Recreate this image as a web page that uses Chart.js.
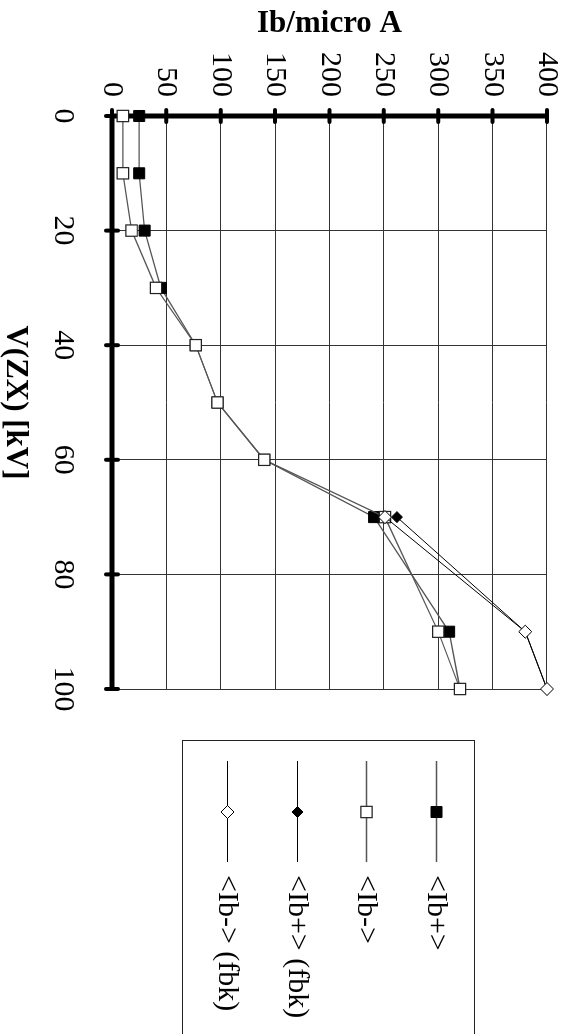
<!DOCTYPE html>
<html><head><meta charset="utf-8">
<script src="https://cdn.jsdelivr.net/npm/chart.js@4.4.1/dist/chart.umd.min.js"></script>
<style>
html,body{margin:0;padding:0;background:#fff;overflow:hidden;width:567px;height:1034px;}
#wrap{position:absolute;left:0;top:0;width:1034px;height:567px;transform-origin:0 0;transform:translate(567px,0) rotate(90deg);background:#fff;}
canvas{display:block;}
</style></head><body>
<div id="wrap"><canvas id="c" width="1034" height="567"></canvas></div>
<script>
// ---- data ----
const voltages   = [0, 10, 20, 30, 40, 50, 60, 70, 90, 100];
const ibPlus     = [25, 25, 30, 45, 77, 97, 140, 241, 310, 320];
const ibMinus    = [10, 10, 18, 40.5, 77, 97, 140, 251, 300, 320];
const ibPlusFbk  = [null, null, null, null, null, null, null, 262, 380, 400];
const ibMinusFbk = [null, null, null, null, null, null, null, 251, 380, 400];
const seriesLabels = ['<Ib+>', '<Ib->', '<Ib+> (fbk)', '<Ib-> (fbk)'];
const vTicks  = [0, 20, 40, 60, 80, 100];
const ibTicks = [0, 50, 100, 150, 200, 250, 300, 350, 400];
const xTitle = 'V(ZX) [kV]';
const yTitle = 'Ib/micro A';

const FONT = 'Liberation Serif, Times New Roman, serif';
const pts = arr => voltages.map((v, i) => ({x: v, y: arr[i]}));

const axesPlugin = {
  id: 'thickAxes',
  beforeDatasetsDraw(chart) {
    const {ctx, scales: {x, y}} = chart;
    const xa = x.getPixelForValue(vTicks[0]), xb = x.getPixelForValue(vTicks[vTicks.length - 1]);
    const ya = y.getPixelForValue(ibTicks[0]), yb = y.getPixelForValue(ibTicks[ibTicks.length - 1]);
    ctx.save();
    ctx.strokeStyle = '#000';
    ctx.lineWidth = 5; ctx.lineCap = 'butt';
    ctx.beginPath(); ctx.moveTo(xa, ya); ctx.lineTo(xb, ya); ctx.stroke();
    ctx.beginPath(); ctx.moveTo(xa, ya); ctx.lineTo(xa, yb); ctx.stroke();
    ctx.lineWidth = 4; ctx.lineCap = 'round';
    vTicks.forEach(v => { const p = x.getPixelForValue(v); ctx.beginPath(); ctx.moveTo(p, ya - 6); ctx.lineTo(p, ya + 6); ctx.stroke(); });
    ibTicks.forEach(v => { const p = y.getPixelForValue(v); ctx.beginPath(); ctx.moveTo(xa - 6, p); ctx.lineTo(xa + 6, p); ctx.stroke(); });
    ctx.restore();
  }
};

const legendPlugin = {
  id: 'lineLegend',
  afterDraw(chart) {
    const {ctx, chartArea: a} = chart;
    const left = a.right + 51, top = 92, bottom = 384;
    ctx.save();
    ctx.strokeStyle = '#222'; ctx.lineWidth = 1;
    ctx.strokeRect(left + 0.5, top + 0.5, 400, bottom - top);
    chart.data.datasets.forEach((ds, i) => {
      const cy = Math.round(130 + i * 69.5) + 0.5;
      ctx.strokeStyle = ds.borderColor; ctx.lineWidth = ds.borderWidth;
      ctx.beginPath(); ctx.moveTo(left + 21, cy); ctx.lineTo(left + 122, cy); ctx.stroke();
      ctx.fillStyle = ds.pointBackgroundColor; ctx.strokeStyle = ds.pointBorderColor; ctx.lineWidth = ds.pointBorderWidth;
      Chart.helpers.drawPoint(ctx, {pointStyle: ds.pointStyle, radius: ds.pointRadius, rotation: 0, borderWidth: ds.pointBorderWidth}, left + 72, cy);
      ctx.fillStyle = '#000';
      ctx.font = '30px ' + FONT;
      ctx.textBaseline = 'middle'; ctx.textAlign = 'left';
      ctx.fillText(ds.label, left + 135, cy + 1);
    });
    ctx.restore();
  }
};

new Chart(document.getElementById('c'), {
  type: 'line',
  data: {
    datasets: [
      {label: seriesLabels[0], data: pts(ibPlus), borderColor: '#555', borderWidth: 1.3, pointStyle: 'rect', pointRadius: 7.8,
       pointBackgroundColor: '#000', pointBorderColor: '#000', pointBorderWidth: 1, order: 4, clip: false},
      {label: seriesLabels[1], data: pts(ibMinus), borderColor: '#555', borderWidth: 1.3, pointStyle: 'rect', pointRadius: 8,
       pointBackgroundColor: '#fff', pointBorderColor: '#222', pointBorderWidth: 1.2, order: 3, clip: false},
      {label: seriesLabels[2], data: pts(ibPlusFbk), borderColor: '#000', borderWidth: 1, pointStyle: 'rectRot', pointRadius: 5.5,
       pointBackgroundColor: '#000', pointBorderColor: '#000', pointBorderWidth: 1, order: 2, clip: false},
      {label: seriesLabels[3], data: pts(ibMinusFbk), borderColor: '#000', borderWidth: 1, pointStyle: 'rectRot', pointRadius: 6.5,
       pointBackgroundColor: '#fff', pointBorderColor: '#000', pointBorderWidth: 1, order: 1, clip: false}
    ]
  },
  options: {
    responsive: false, animation: false, events: [],
    layout: {padding: {left: 0, top: 20, right: 345, bottom: 0}},
    elements: {line: {tension: 0, fill: false}},
    plugins: {legend: {display: false}, tooltip: {enabled: false}},
    scales: {
      x: {
        type: 'linear', min: 0, max: 100,
        afterBuildTicks: s => { s.ticks = vTicks.map(v => ({value: v})); },
        afterFit: s => { s.height = 112; s.paddingLeft = 0; s.paddingRight = 0; },
        grid: {color: '#333', lineWidth: 1, drawTicks: false},
        border: {display: false},
        ticks: {color: '#000', font: {family: FONT, size: 30}, padding: 31, maxRotation: 0, autoSkip: false},
        title: {display: true, text: xTitle, color: '#000', font: {family: FONT, size: 31, weight: 'bold', lineHeight: 1}, padding: {top: 0, bottom: 0}}
      },
      y: {
        type: 'linear', min: 0, max: 400,
        afterBuildTicks: s => { s.ticks = ibTicks.map(v => ({value: v})); },
        afterFit: s => { s.width = 116; s.paddingTop = 0; s.paddingBottom = 0; },
        grid: {color: '#333', lineWidth: 1, drawTicks: false},
        border: {display: false},
        ticks: {color: '#000', font: {family: FONT, size: 30}, padding: 19, autoSkip: false},
        title: {display: true, text: yTitle, color: '#000', font: {family: FONT, size: 31, weight: 'bold', lineHeight: 1}, padding: {top: 8, bottom: 0}}
      }
    }
  },
  plugins: [axesPlugin, legendPlugin]
});
</script>
</body></html>
